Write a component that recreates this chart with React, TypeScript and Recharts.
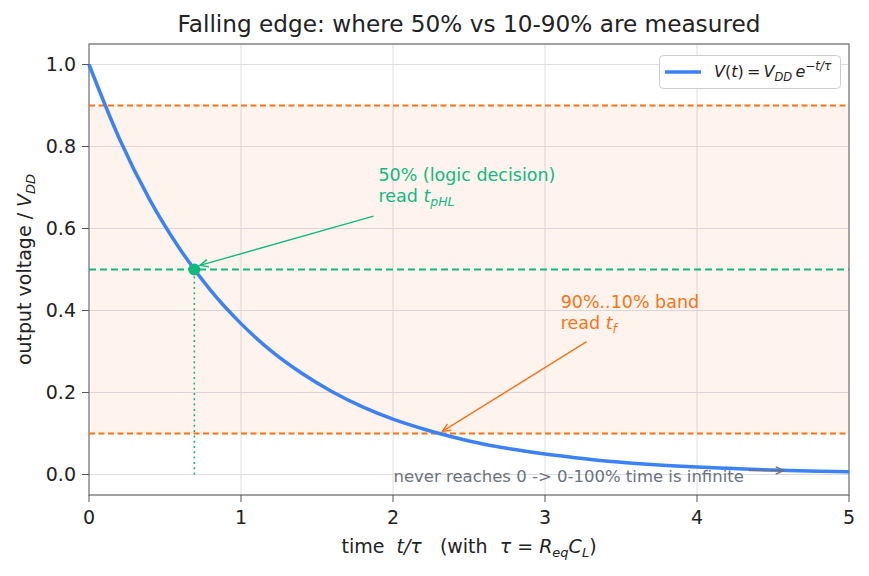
import React from "react";
import {
  LineChart,
  Line,
  XAxis,
  YAxis,
  CartesianGrid,
  ReferenceArea,
  ReferenceLine,
  ReferenceDot,
  Legend,
} from "recharts";

// normalised falling edge (t in units of tau)
const timeTau = [0, 0.2, 0.4, 0.6, 0.8, 1, 1.2, 1.4, 1.6, 1.8, 2, 2.2, 2.4, 2.6, 2.8, 3, 3.2, 3.4, 3.6, 3.8, 4, 4.2, 4.4, 4.6, 4.8, 5];
const vNorm = [1.0, 0.819, 0.67, 0.549, 0.449, 0.368, 0.301, 0.247, 0.202, 0.165, 0.135, 0.111, 0.091, 0.074, 0.061, 0.05, 0.041, 0.033, 0.027, 0.022, 0.018, 0.015, 0.012, 0.01, 0.008, 0.007];

const xTicks = [0, 1, 2, 3, 4, 5];
const yTicks = [0, 0.2, 0.4, 0.6, 0.8, 1.0];

const bandLow = 0.1;
const bandHigh = 0.9;
const midLevel = 0.5;
const t50 = 0.693;

const data = timeTau.map((t, i) => ({ t, v: vNorm[i] }));

const FONT = "'DejaVu Sans', sans-serif";
const BLUE = "#3b82f6";
const GREEN = "#10b981";
const ORANGE = "#f97316";
const GRAY = "#6b7280";
const INK = "#222222";

function arrow(color: string, w: number) {
  return (p: any) => {
    const { x1, y1, x2, y2 } = p;
    const a = Math.atan2(y2 - y1, x2 - x1);
    const L = 9;
    const s = 0.42;
    const hx1 = x2 - L * Math.cos(a - s);
    const hy1 = y2 - L * Math.sin(a - s);
    const hx2 = x2 - L * Math.cos(a + s);
    const hy2 = y2 - L * Math.sin(a + s);
    return (
      <g>
        <line x1={x1} y1={y1} x2={x2} y2={y2} stroke={color} strokeWidth={w} />
        <path d={`M${hx1},${hy1}L${x2},${y2}L${hx2},${hy2}`} fill="none" stroke={color} strokeWidth={w} />
      </g>
    );
  };
}

function note(first: React.ReactNode, second: React.ReactNode | null, color: string, size: number) {
  return (p: any) => (
    <text x={p.cx} y={p.cy} fill={color} fontSize={size} fontFamily={FONT}>
      <tspan x={p.cx}>{first}</tspan>
      {second && (
        <tspan x={p.cx} dy={size * 1.2}>
          {second}
        </tspan>
      )}
    </text>
  );
}

const LegendBox = () => (
  <svg width={182} height={34} style={{ display: "block" }}>
    <rect x={0.5} y={0.5} width={181} height={33} rx={4} fill="#fff" fillOpacity={0.9} stroke="#cccccc" />
    <line x1={6} x2={42} y1={17} y2={17} stroke={BLUE} strokeWidth={3.5} />
    <text x={55} y={22} fontSize={16} fontFamily={FONT} fill={INK} style={{ whiteSpace: "pre" }}>
      <tspan fontStyle="italic">V</tspan>(<tspan fontStyle="italic">t</tspan>)
      {"\u2009=\u2009"}
      <tspan fontStyle="italic">V</tspan>
      <tspan fontStyle="italic" fontSize={11.5} dy={4}>DD</tspan>
      <tspan dy={-4}>{"\u2009"}</tspan>
      <tspan fontStyle="italic">e</tspan>
      <tspan fontStyle="italic" fontSize={12} dy={-7}>−t/τ</tspan>
    </text>
  </svg>
);

const XLabel = (p: any) => {
  const vb = p.viewBox;
  return (
    <text x={vb.x + vb.width / 2} y={vb.y + 58} textAnchor="middle" fontSize={19} fontFamily={FONT} fill={INK} style={{ whiteSpace: "pre" }}>
      {"time  "}
      <tspan fontStyle="italic">t/τ</tspan>
      {"   (with  "}
      <tspan fontStyle="italic">τ</tspan>
      {" = "}
      <tspan fontStyle="italic">R</tspan>
      <tspan fontStyle="italic" fontSize={13} dy={4}>eq</tspan>
      <tspan fontStyle="italic" dy={-4}>C</tspan>
      <tspan fontStyle="italic" fontSize={13} dy={4}>L</tspan>
      <tspan dy={-4}>)</tspan>
    </text>
  );
};

const YLabel = (p: any) => {
  const vb = p.viewBox;
  const x = 31;
  const y = vb.y + vb.height / 2;
  return (
    <text x={x} y={y} transform={`rotate(-90, ${x}, ${y})`} textAnchor="middle" fontSize={19} fontFamily={FONT} fill={INK} style={{ whiteSpace: "pre" }}>
      {"output voltage / "}
      <tspan fontStyle="italic">V</tspan>
      <tspan fontStyle="italic" fontSize={13} dy={4}>DD</tspan>
    </text>
  );
};

export default function App() {
  const tick = { fontSize: 19, fill: INK, fontFamily: FONT };
  return (
    <div style={{ position: "absolute", left: 0, top: 0, width: 869, height: 576, background: "#fff" }}>
      <div
        style={{
          position: "absolute",
          left: 0,
          top: 12,
          width: 869 + 69,
          textAlign: "center",
          fontFamily: FONT,
          fontSize: 23.2,
          lineHeight: "23px",
          color: INK,
          zIndex: 2,
        }}
      >
        Falling edge: where 50% vs 10-90% are measured
      </div>
      <LineChart width={869} height={576} data={data} margin={{ top: 44, right: 20, bottom: 50, left: 0 }}>
        <CartesianGrid stroke="#dcdce6" strokeWidth={1} />
        <ReferenceArea x1={0} x2={5} y1={bandLow} y2={bandHigh} fill={ORANGE} fillOpacity={0.08} stroke="none" />
        <XAxis
          dataKey="t"
          type="number"
          domain={[0, 5]}
          ticks={xTicks}
          interval={0}
          height={31}
          tick={tick}
          tickSize={7}
          tickMargin={9}
          tickLine={{ stroke: "#555" }}
          axisLine={false}
          label={<XLabel />}
        />
        <YAxis
          type="number"
          domain={[-0.05, 1.05]}
          allowDataOverflow
          ticks={yTicks}
          interval={0}
          width={89}
          tick={tick}
          tickSize={7}
          tickMargin={6}
          tickLine={{ stroke: "#555" }}
          axisLine={false}
          tickFormatter={(v: number) => v.toFixed(1)}
          label={<YLabel />}
        />
        <ReferenceLine y={bandHigh} stroke={ORANGE} strokeWidth={1.8} strokeDasharray="6 3.5" />
        <ReferenceLine y={bandLow} stroke={ORANGE} strokeWidth={1.8} strokeDasharray="6 3.5" />
        <ReferenceLine y={midLevel} stroke={GREEN} strokeWidth={2} strokeDasharray="7 4" />
        <ReferenceLine
          segment={[{ x: t50, y: 0 }, { x: t50, y: midLevel }]}
          stroke={GREEN}
          strokeWidth={1.6}
          strokeDasharray="2 3.3"
        />
        <Line type="monotone" dataKey="v" stroke={BLUE} strokeWidth={3.5} dot={false} activeDot={false} isAnimationActive={false} />
        <ReferenceDot x={t50} y={midLevel} r={6} fill={GREEN} stroke="none" />
        <ReferenceLine segment={[{ x: 1.872, y: 0.63 }, { x: 0.73, y: 0.51 }]} shape={arrow(GREEN, 1.4)} />
        <ReferenceLine segment={[{ x: 3.274, y: 0.324 }, { x: 2.325, y: 0.105 }]} shape={arrow(ORANGE, 1.4)} />
        <ReferenceLine segment={[{ x: 4.341, y: 0.0098 }, { x: 4.572, y: 0.0098 }]} shape={arrow(GRAY, 1.4)} />
        <ReferenceDot
          x={1.904}
          y={0.715}
          r={0}
          shape={note(
            "50% (logic decision)",
            <>
              {"read "}
              <tspan fontStyle="italic">t</tspan>
              <tspan fontStyle="italic" fontSize={12.5} dy={4}>pHL</tspan>
            </>,
            GREEN,
            17.5
          )}
        />
        <ReferenceDot
          x={3.103}
          y={0.407}
          r={0}
          shape={note(
            "90%..10% band",
            <>
              {"read "}
              <tspan fontStyle="italic">t</tspan>
              <tspan fontStyle="italic" fontSize={12.5} dy={4}>f</tspan>
            </>,
            ORANGE,
            17.5
          )}
        />
        <ReferenceDot x={2.003} y={-0.0195} r={0} shape={note("never reaches 0 -> 0-100% time is infinite", null, GRAY, 16.5)} />
        <ReferenceArea x1={0} x2={5} y1={-0.05} y2={1.05} fill="none" stroke="#888888" strokeWidth={1.4} />
        <Legend
          layout="horizontal"
          verticalAlign="middle"
          align="center"
          wrapperStyle={{ left: 659, top: 55, width: 182, height: 34 }}
          content={() => <LegendBox />}
        />
      </LineChart>
    </div>
  );
}
